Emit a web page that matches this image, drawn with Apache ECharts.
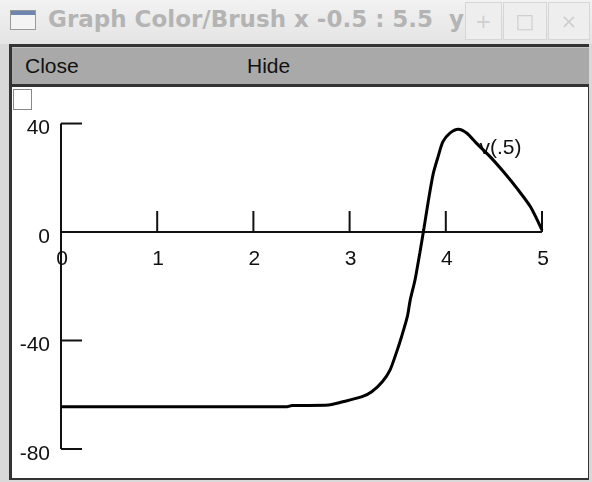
<!DOCTYPE html>
<html>
<head>
<meta charset="utf-8">
<script src="https://cdn.jsdelivr.net/npm/echarts@6/dist/echarts.min.js"></script>
<style>
  html, body { margin: 0; padding: 0; width: 592px; height: 482px; overflow: hidden; background: #d9d9d9; }
  #titlebar { position: absolute; left: 0; top: 0; width: 592px; height: 44px; background: linear-gradient(#f2f2f2, #e4e4e4); }
  #icon { position: absolute; left: 10px; top: 10px; width: 26px; height: 20px; border: 1px solid #9a9a9a; background: linear-gradient(#6e86b0 0, #6e86b0 4px, #f4f4f4 4px); box-sizing: border-box; }
  #title { position: absolute; left: 48px; top: 6px; width: 440px; overflow: hidden; white-space: pre; font: bold 23px "DejaVu Sans", sans-serif; color: #b4b4b4; }
  .btn { position: absolute; top: 2px; height: 38px; border: 1px solid #d6d6d6; box-sizing: border-box; background: #eeeeee; color: #cfcfcf; font: 20px "DejaVu Sans", sans-serif; text-align: center; line-height: 36px; z-index: 2; }
  #frame { position: absolute; left: 9px; top: 44px; width: 580px; height: 436px; background: #333; }
  #menu { position: absolute; left: 12px; top: 47px; width: 577px; height: 36px; background: #a9a9a9; border-top: 1px solid #c4c4c4; }
  .menuitem { position: absolute; top: 6px; font: 21px "Liberation Sans", sans-serif; color: #111; }
  #plot { position: absolute; left: 12px; top: 87px; width: 576px; height: 391px; background: #fff; }
  #check { position: absolute; left: 13px; top: 89px; width: 19px; height: 21px; border: 1px solid #888; box-sizing: border-box; background: #fff; }
  #chart { position: absolute; left: 0; top: 0; width: 592px; height: 482px; }
</style>
</head>
<body>
<div id="titlebar">
  <div id="icon"></div>
  <div id="title">Graph Color/Brush x -0.5 : 5.5  y</div>
  <div class="btn" style="left:465px;width:37px;">+</div>
  <div class="btn" style="left:503px;width:44px;">□</div>
  <div class="btn" style="left:548px;width:42px;">×</div>
</div>
<div id="frame"></div>
<div id="menu">
  <span class="menuitem" style="left:13px;">Close</span>
  <span class="menuitem" style="left:235px;">Hide</span>
</div>
<div id="plot"></div>
<div id="check"></div>
<div id="chart"></div>
<script>
// Membrane potential trace v(.5) against time
const timeValues = [0, 2.35, 2.40, 2.78, 2.93, 3.13, 3.23, 3.34, 3.42, 3.49, 3.54, 3.60, 3.63, 3.68,
  3.73, 3.77, 3.82, 3.87, 3.92, 3.97, 4.04, 4.13, 4.22, 4.32, 4.46, 4.60, 4.74, 4.88, 5.0];
const voltValues = [-64.4, -64.4, -64.0, -63.8, -62.6, -60.7, -58.9, -55.2, -50.9, -44.1, -38.6, -31.2, -25.1, -17.7,
  -7.7, 0.7, 11.8, 21.6, 27.8, 33.3, 36.4, 37.9, 36.4, 32.7, 27.8, 22.2, 16.1, 9.3, 0.7];

// Axis ticks and their labels
const xTicks = [0, 1, 2, 3, 4, 5];
const xTickLabels = ['0', '1', '2', '3', '4', '5'];
const yTicks = [40, 0, -40, -80];
const yTickLabels = ['40', '0', '-40', '-80'];
const traceLabel = 'v(.5)';
const traceLabelAt = [4.35, 31];

const chart = echarts.init(document.getElementById('chart'), null, { renderer: 'canvas' });

const tickLen = 21;
const textFont = '21px "Liberation Sans"';

chart.setOption({
  animation: false,
  backgroundColor: 'transparent',
  grid: { left: 12.9, right: 1.9, top: 88, bottom: 4, containLabel: false },
  xAxis: { type: 'value', min: -0.5, max: 5.5, show: false },
  yAxis: { type: 'value', min: -90.7, max: 53.1, show: false },
  series: [
    // horizontal axis line from first to last tick
    {
      type: 'line', silent: true, symbol: 'none', z: 2,
      lineStyle: { color: '#111', width: 2 },
      data: [[xTicks[0], 0], [xTicks[xTicks.length - 1], 0]]
    },
    // vertical axis line spanning the y ticks
    {
      type: 'line', silent: true, symbol: 'none', z: 2,
      lineStyle: { color: '#111', width: 2 },
      data: [[0, Math.min(...yTicks)], [0, Math.max(...yTicks)]]
    },
    // x ticks pointing up, labels below
    {
      type: 'custom', silent: true, z: 3,
      data: xTicks.map((t, i) => [t, 0, i]),
      renderItem: (params, api) => {
        const p = api.coord([api.value(0), api.value(1)]);
        const i = api.value(2);
        return {
          type: 'group',
          children: [
            { type: 'line', shape: { x1: p[0], y1: p[1], x2: p[0], y2: p[1] - tickLen }, style: { stroke: '#111', lineWidth: 2 } },
            { type: 'text', x: p[0] + 1, y: p[1] + 27, style: { text: xTickLabels[i], align: 'center', verticalAlign: 'middle', font: textFont, fill: '#111' } }
          ]
        };
      }
    },
    // y ticks pointing right, labels to the left
    {
      type: 'custom', silent: true, z: 3,
      data: yTicks.map((t, i) => [0, t, i]),
      renderItem: (params, api) => {
        const p = api.coord([api.value(0), api.value(1)]);
        const i = api.value(2);
        const children = [
          { type: 'text', x: p[0] - 11, y: p[1] + 5, style: { text: yTickLabels[i], align: 'right', verticalAlign: 'middle', font: textFont, fill: '#111' } }
        ];
        if (api.value(1) !== 0) {
          children.push({ type: 'line', shape: { x1: p[0], y1: p[1], x2: p[0] + tickLen, y2: p[1] }, style: { stroke: '#111', lineWidth: 2 } });
        }
        return { type: 'group', children };
      }
    },
    // trace name, left-aligned at its anchor
    {
      type: 'custom', silent: true, z: 1,
      data: [traceLabelAt],
      renderItem: (params, api) => {
        const p = api.coord([api.value(0), api.value(1)]);
        return { type: 'text', x: p[0], y: p[1], style: { text: traceLabel, align: 'left', verticalAlign: 'middle', font: textFont, fill: '#111' } };
      }
    },
    // the voltage trace
    {
      type: 'line', silent: true, symbol: 'none', z: 4, smooth: 0.25,
      lineStyle: { color: '#000', width: 3 },
      data: timeValues.map((t, i) => [t, voltValues[i]])
    }
  ]
});
</script>
</body>
</html>
